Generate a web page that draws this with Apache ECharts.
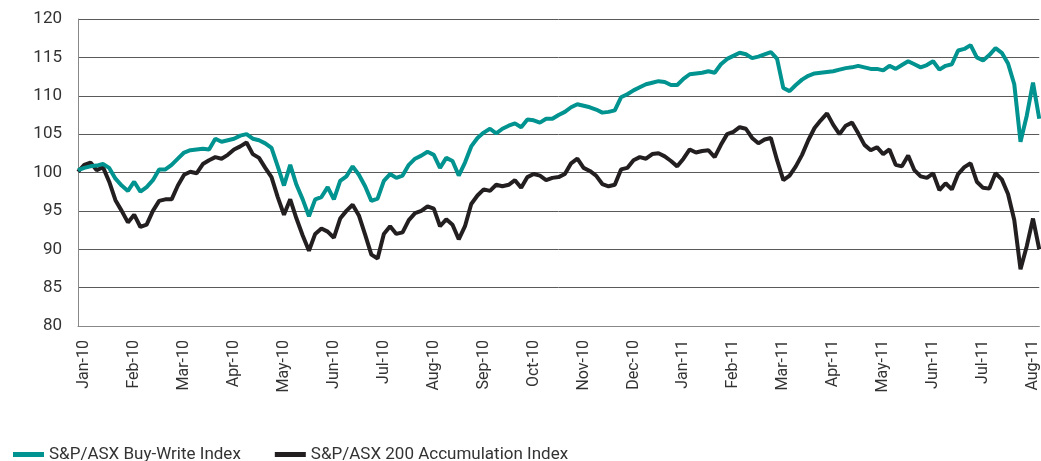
<!DOCTYPE html>
<html>
<head>
<meta charset="utf-8">
<title>Buy-Write vs Accumulation Index</title>
<script src="https://cdn.jsdelivr.net/npm/echarts@6/dist/echarts.min.js"></script>
<style>
  html, body { margin: 0; padding: 0; background: #fff; }
  #myChart { width: 1041px; height: 461px; }
</style>
</head>
<body>
<div id="myChart"></div>
<script>
// sample points: one before Jan-10, then 8 per month, then start of Aug-11
const monthKeys = ['2010-01','2010-02','2010-03','2010-04','2010-05','2010-06','2010-07','2010-08','2010-09','2010-10',
  '2010-11','2010-12','2011-01','2011-02','2011-03','2011-04','2011-05','2011-06','2011-07'];
const sampleDays = ['01','04','08','12','16','19','23','27'];
const tickLabels = ['Jan-10','Feb-10','Mar-10','Apr-10','May-10','Jun-10','Jul-10','Aug-10','Sep-10','Oct-10',
  'Nov-10','Dec-10','Jan-11','Feb-11','Mar-11','Apr-11','May-11','Jun-11','Jul-11','Aug-11'];

const buyWrite = [
  100.3,100.6,100.8,100.9,101.1,100.6,99.2,98.3,97.6,98.8,
  97.5,98.1,99.0,100.4,100.4,101.0,101.8,102.6,102.9,103.0,
  103.1,103.0,104.4,104.0,104.2,104.4,104.8,105.0,104.4,104.2,
  103.8,103.2,100.8,98.3,101.0,98.4,96.5,94.3,96.5,96.8,
  98.1,96.5,98.9,99.5,100.8,99.7,98.2,96.3,96.6,98.9,
  99.8,99.3,99.6,101.0,101.8,102.2,102.7,102.3,100.6,101.9,
  101.5,99.6,101.3,103.4,104.5,105.2,105.7,105.1,105.7,106.1,
  106.4,105.9,106.9,106.8,106.5,107.0,107.0,107.5,107.9,108.5,
  108.9,108.7,108.5,108.2,107.8,107.9,108.1,109.8,110.2,110.7,
  111.1,111.5,111.7,111.9,111.8,111.4,111.4,112.2,112.8,112.9,
  113.0,113.2,113.0,114.1,114.8,115.2,115.6,115.4,114.9,115.1,
  115.4,115.7,114.8,111.0,110.6,111.4,112.1,112.6,112.9,113.0,
  113.1,113.2,113.4,113.6,113.7,113.9,113.7,113.5,113.5,113.3,
  113.9,113.5,114.0,114.5,114.1,113.7,114.0,114.5,113.4,113.9,
  114.1,115.9,116.1,116.6,115.0,114.6,115.3,116.2,115.6,114.2,
  111.5,104.0,107.4,111.7,107.0
];

const accumulation = [
  100.1,101.0,101.3,100.3,100.7,98.8,96.4,95.0,93.5,94.5,
  92.9,93.2,95.0,96.3,96.5,96.5,98.3,99.7,100.1,99.9,
  101.1,101.6,102.0,101.8,102.3,103.0,103.4,103.9,102.4,101.9,
  100.6,99.4,96.8,94.5,96.5,94.0,91.8,89.8,92.0,92.7,
  92.3,91.5,94.0,95.0,95.8,94.4,91.9,89.3,88.8,92.0,
  93.0,92.0,92.2,93.8,94.7,95.0,95.6,95.3,93.0,93.9,
  93.2,91.3,93.0,95.9,97.0,97.8,97.6,98.4,98.2,98.4,
  99.0,98.0,99.4,99.8,99.6,99.0,99.3,99.4,99.8,101.2,
  101.8,100.6,100.2,99.6,98.5,98.2,98.4,100.4,100.6,101.6,
  102.0,101.8,102.4,102.5,102.1,101.5,100.8,101.8,103.0,102.6,
  102.8,102.9,102.0,103.6,105.0,105.3,105.9,105.7,104.5,103.8,
  104.3,104.5,101.6,99.0,99.6,100.8,102.3,104.2,105.8,106.8,
  107.7,106.2,105.0,106.1,106.5,105.1,103.6,102.9,103.3,102.4,
  103.0,101.0,100.8,102.2,100.3,99.5,99.3,99.9,97.7,98.6,
  97.8,99.8,100.7,101.2,98.8,98.0,97.9,99.9,99.1,97.2,
  93.8,87.4,90.4,94.0,90.0
];

let categories = ['2009-12-27'];
monthKeys.forEach(m => sampleDays.forEach(d => categories.push(m + '-' + d)));
categories.push('2011-08-01', '2011-08-04');

const labelFont = "'Roboto', sans-serif";

function monthLabel(value) {
  const y = +value.slice(0, 4), m = +value.slice(5, 7);
  return tickLabels[(y - 2010) * 12 + m - 1];
}

let myChart = echarts.init(document.getElementById('myChart'));
let option = {
  animation: false,
  color: ['#00938f', '#231f20'],
  grid: { left: 78, right: 0, top: 19, bottom: 135 },
  legend: {
    left: 8,
    top: 441,
    icon: 'rect',
    itemWidth: 31,
    itemHeight: 5,
    itemGap: 34,
    textStyle: { fontFamily: labelFont, fontSize: 17, color: '#333' },
    data: ['S&P/ASX Buy-Write Index', 'S&P/ASX 200 Accumulation Index']
  },
  xAxis: {
    type: 'category',
    boundaryGap: false,
    data: categories,
    axisLine: { show: true, lineStyle: { color: '#888' } },
    axisTick: { show: false },
    axisLabel: {
      rotate: 90,
      margin: 14,
      fontFamily: labelFont,
      fontSize: 16,
      color: '#333',
      interval: (index, value) => value.slice(8) === '01',
      formatter: monthLabel
    },
    splitLine: { show: false }
  },
  yAxis: {
    type: 'value',
    min: 80,
    max: 120,
    interval: 5,
    axisLine: { show: true, lineStyle: { color: '#888' } },
    axisTick: { show: false },
    axisLabel: { margin: 16, fontFamily: labelFont, fontSize: 17, color: '#333' },
    splitLine: { lineStyle: { color: '#5a5a5a', width: 1 } }
  },
  series: [
    {
      name: 'S&P/ASX Buy-Write Index',
      type: 'line',
      data: buyWrite,
      showSymbol: false,
      lineStyle: { width: 4 },
      z: 3
    },
    {
      name: 'S&P/ASX 200 Accumulation Index',
      type: 'line',
      data: accumulation,
      showSymbol: false,
      lineStyle: { width: 4 },
      z: 2
    }
  ]
};
myChart.setOption(option);
</script>
</body>
</html>
